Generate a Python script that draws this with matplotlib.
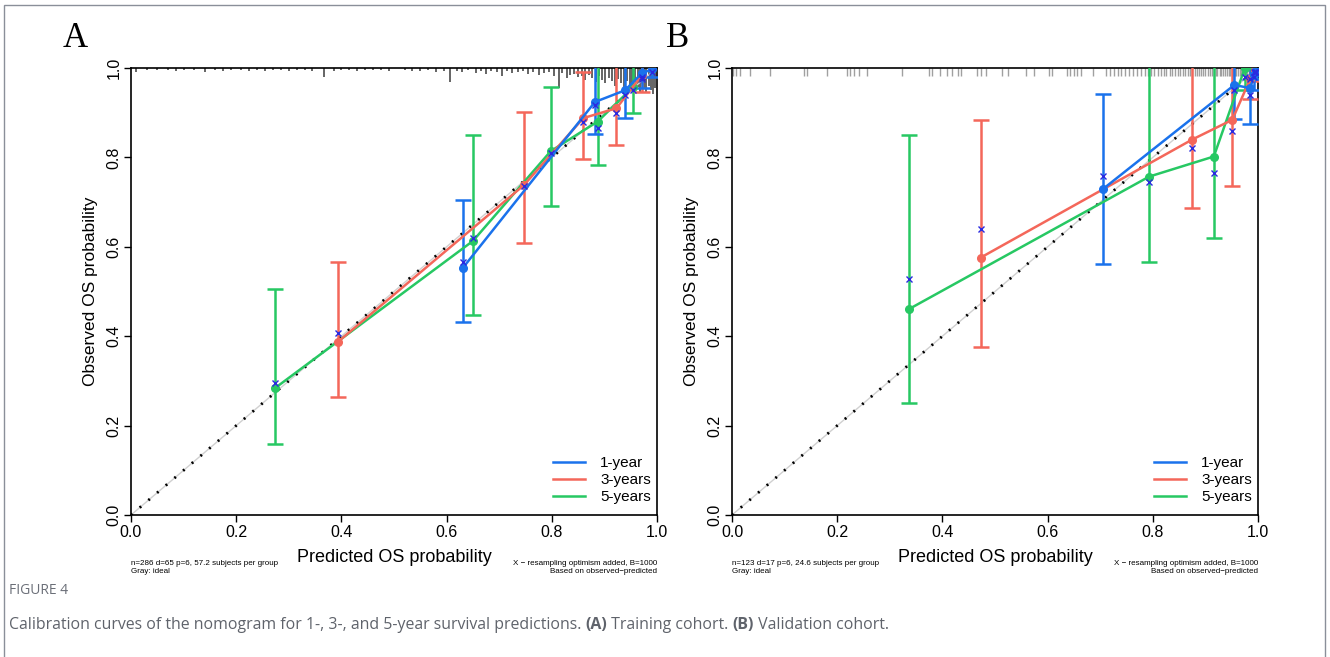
import matplotlib
matplotlib.use("Agg")
import matplotlib.pyplot as plt
from matplotlib.lines import Line2D
from matplotlib.patches import Rectangle

# colours
BLUE = "#1a72ec"
RED = "#f4675a"
GREEN = "#27c863"
XCOL = "#2a2ae0"

labels = ["1-year", "3-years", "5-years"]

# ---- panel A : training cohort ----
a_pred = {
    "1-year": [0.631, 0.882, 0.939, 0.971, 0.990],
    "3-years": [0.393, 0.747, 0.860, 0.923, 0.971],
    "5-years": [0.274, 0.650, 0.798, 0.887, 0.955],
}
a_obs = {
    "1-year": [0.553, 0.924, 0.950, 0.988, 0.997],
    "3-years": [0.387, 0.738, 0.888, 0.910, 0.984],
    "5-years": [0.284, 0.613, 0.814, 0.880, 0.958],
}
a_lo = {
    "1-year": [0.432, 0.852, 0.889, 0.955, 0.980],
    "3-years": [0.264, 0.608, 0.796, 0.828, 0.947],
    "5-years": [0.159, 0.447, 0.692, 0.783, 0.899],
}
a_hi = {
    "1-year": [0.705, 1.05, 1.05, 1.05, 1.05],
    "3-years": [0.566, 0.901, 0.992, 1.05, 1.05],
    "5-years": [0.506, 0.850, 0.958, 1.05, 1.05],
}
a_corr = {
    "1-year": [0.566, 0.918, 0.940, 0.980, 0.992],
    "3-years": [0.407, 0.735, 0.880, 0.900, 0.975],
    "5-years": [0.295, 0.620, 0.810, 0.866, 0.950],
}
a_rug_x = [0.010, 0.030, 0.050, 0.070, 0.085, 0.100, 0.120, 0.140, 0.160, 0.175,
           0.190, 0.210, 0.225, 0.240, 0.255, 0.270, 0.285, 0.300, 0.315, 0.330,
           0.345, 0.367, 0.385, 0.400, 0.415, 0.430, 0.445, 0.460, 0.475, 0.490,
           0.520, 0.535, 0.550, 0.565, 0.580, 0.595, 0.607, 0.620, 0.630, 0.640,
           0.655, 0.665, 0.675, 0.685, 0.695, 0.705, 0.715, 0.725, 0.735, 0.745,
           0.755, 0.765, 0.775, 0.785, 0.795, 0.805, 0.814, 0.820, 0.828, 0.835,
           0.842, 0.850, 0.857, 0.864, 0.870, 0.877, 0.884, 0.890, 0.896, 0.902,
           0.908, 0.914, 0.920, 0.926, 0.932, 0.937, 0.943, 0.948, 0.953, 0.958,
           0.963, 0.968, 0.972, 0.976, 0.980, 0.984, 0.988, 0.992, 0.996]
a_rug_h = [4, 2, 2, 2, 3, 2, 2, 4, 2, 3,
           2, 2, 3, 2, 3, 2, 2, 3, 2, 2,
           3, 9, 3, 2, 2, 3, 2, 2, 2, 3,
           2, 3, 3, 2, 4, 3, 14, 3, 4, 2,
           5, 3, 6, 3, 4, 8, 3, 5, 4, 3,
           6, 4, 7, 5, 4, 8, 20, 5, 10, 7,
           6, 9, 8, 12, 7, 10, 14, 8, 12, 15,
           10, 13, 18, 11, 15, 20, 13, 17, 22, 14,
           19, 24, 16, 20, 25, 18, 22, 26, 20]

# ---- panel B : validation cohort ----
b_pred = {
    "1-year": [0.705, 0.955, 0.985, 0.993, 0.997],
    "3-years": [0.473, 0.875, 0.951, 0.985, 0.995],
    "5-years": [0.337, 0.793, 0.916, 0.975, 0.992],
}
b_obs = {
    "1-year": [0.729, 0.962, 0.955, 0.985, 0.995],
    "3-years": [0.576, 0.840, 0.884, 0.975, 0.995],
    "5-years": [0.461, 0.757, 0.802, 1.000, 1.000],
}
b_lo = {
    "1-year": [0.561, 0.887, 0.874, 0.950, 0.975],
    "3-years": [0.375, 0.686, 0.736, 0.930, 0.970],
    "5-years": [0.250, 0.567, 0.619, 0.950, 0.975],
}
b_hi = {
    "1-year": [0.942, 1.05, 1.05, 1.05, 1.05],
    "3-years": [0.884, 1.05, 1.05, 1.05, 1.05],
    "5-years": [0.849, 1.05, 1.05, 1.05, 1.05],
}
b_corr = {
    "1-year": [0.758, 0.950, 0.940, 0.980, 0.990],
    "3-years": [0.639, 0.822, 0.859, 0.975, 0.990],
    "5-years": [0.527, 0.746, 0.766, 0.980, 0.990],
}
b_rug_x = [0.001, 0.008, 0.015, 0.035, 0.072, 0.137, 0.143, 0.181, 0.218, 0.225,
           0.232, 0.242, 0.256, 0.323, 0.374, 0.381, 0.395, 0.408, 0.418, 0.429,
           0.435, 0.466, 0.473, 0.483, 0.514, 0.524, 0.558, 0.575, 0.602, 0.609,
           0.636, 0.643, 0.650, 0.656, 0.663, 0.687, 0.711, 0.718, 0.726, 0.733,
           0.740, 0.748, 0.755, 0.762, 0.770, 0.777, 0.785, 0.790, 0.797, 0.803,
           0.810, 0.815, 0.821, 0.826, 0.832, 0.837, 0.842, 0.847, 0.852, 0.857,
           0.862, 0.866, 0.871, 0.875, 0.880, 0.884, 0.888, 0.892, 0.896, 0.900,
           0.904, 0.908, 0.912, 0.916, 0.920, 0.923, 0.927, 0.930, 0.934, 0.937,
           0.941, 0.944, 0.947, 0.950, 0.953, 0.956, 0.959, 0.962, 0.965, 0.968,
           0.971, 0.974, 0.977, 0.980, 0.983, 0.986, 0.989, 0.992, 0.995, 0.998]

panels = [
    dict(letter="A", pred=a_pred, obs=a_obs, lo=a_lo, hi=a_hi, corr=a_corr,
         note="n=286 d=65 p=6, 57.2 subjects per group\nGray: ideal", left=131),
    dict(letter="B", pred=b_pred, obs=b_obs, lo=b_lo, hi=b_hi, corr=b_corr,
         note="n=123 d=17 p=6, 24.6 subjects per group\nGray: ideal", left=732),
]
colors = {"1-year": BLUE, "3-years": RED, "5-years": GREEN}

W, H = 1330, 657
fig = plt.figure(figsize=(W / 100, H / 100), dpi=100)
plt.rcParams["font.family"] = ["Liberation Sans", "DejaVu Sans"]

# outer frame of the figure block
fig.patches.append(Rectangle((4 / W, -0.05), (W - 9) / W, 1.05 - 5 / H,
                             transform=fig.transFigure, fill=False,
                             edgecolor="#8a8f99", lw=1.0))

for p in panels:
    ax = fig.add_axes([p["left"] / W, 1 - 515 / H, 526 / W, 447 / H])
    ax.set_xlim(0, 1)
    ax.set_ylim(0, 1)

    # rug of predicted values
    if p["letter"] == "A":
        ax.vlines(a_rug_x, [1 - h / 447 for h in a_rug_h], 1, color="#4a4a4a", lw=1.2)
    else:
        ax.vlines(b_rug_x, 1 - 8 / 447, 1, color="#a0a0a0", lw=1.0)

    # ideal line
    ax.plot([0, 1], [0, 1], color="#d0d0d0", lw=1.0)
    ax.plot([0, 1], [0, 1], color="black", lw=2.0, ls=(0, (0.7, 3.4)))

    for lab in ["5-years", "3-years", "1-year"]:
        c = colors[lab]
        x = p["pred"][lab]
        y = p["obs"][lab]
        lo = [yy - l for yy, l in zip(y, p["lo"][lab])]
        hi = [h - yy for yy, h in zip(y, p["hi"][lab])]
        ax.errorbar(x, y, yerr=[lo, hi], fmt="none", ecolor=c, elinewidth=1.8,
                    capsize=6, capthick=1.8, zorder=3)
        ax.plot(x, y, color=c, lw=1.8, marker="o", ms=5.5, zorder=4)
        ax.plot(x, p["corr"][lab], ls="none", marker="x", ms=4.5, mew=1.0,
                color=XCOL, zorder=5)

    ax.set_xticks([0, 0.2, 0.4, 0.6, 0.8, 1.0])
    ax.set_yticks([0, 0.2, 0.4, 0.6, 0.8, 1.0])
    ax.set_xticklabels(["0.0", "0.2", "0.4", "0.6", "0.8", "1.0"], fontsize=11.5)
    ax.set_yticklabels(["0.0", "0.2", "0.4", "0.6", "0.8", "1.0"], fontsize=11.5,
                       rotation=90, va="center")
    ax.tick_params(direction="out", length=5, width=1, pad=2)
    for s in ax.spines.values():
        s.set_linewidth(1.2)

    ax.set_ylabel("Observed OS probability", fontsize=12.5, labelpad=6)
    ax.text(0.5, -0.075, "Predicted OS probability", transform=ax.transAxes,
            ha="center", va="top", fontsize=13)
    ax.text(0.0, -0.1, p["note"], transform=ax.transAxes, ha="left", va="top",
            fontsize=5.8, linespacing=1.3)
    ax.text(1.0, -0.1, "X \u2212 resampling optimism added, B=1000\nBased on observed\u2212predicted",
            transform=ax.transAxes, ha="right", va="top", fontsize=5.8,
            linespacing=1.3, multialignment="right")

    handles = [Line2D([], [], color=colors[l], lw=1.8) for l in labels]
    ax.legend(handles, labels, loc="lower left", bbox_to_anchor=(0.79, 0.01),
              frameon=False, fontsize=11, handlelength=2.1, handletextpad=1.0,
              labelspacing=0.2, borderaxespad=0)

    ax.text(-0.13 if p["letter"] == "A" else -0.125, 1.03, p["letter"],
            transform=ax.transAxes, fontsize=25, family="Liberation Serif",
            ha="left", va="bottom")

# caption
fig.text(9 / W, 1 - 590 / H, "FIGURE 4", fontsize=10, color="#6b6f78",
         family="Open Sans", va="center")

parts = [("Calibration curves of the nomogram for 1-, 3-, and 5-year survival predictions. ", "normal"),
         ("(A)", "bold"), (" Training cohort. ", "normal"), ("(B)", "bold"),
         (" Validation cohort.", "normal")]
fig.canvas.draw()
r = fig.canvas.get_renderer()
xpos = 9
for txt, wt in parts:
    t = fig.text(xpos / W, 1 - 625 / H, txt, fontsize=11.4, color="#5f636b",
                 family="Open Sans", weight=wt, va="center")
    bb = t.get_window_extent(renderer=r)
    xpos += bb.width

fig.savefig("out.png", dpi=100)
